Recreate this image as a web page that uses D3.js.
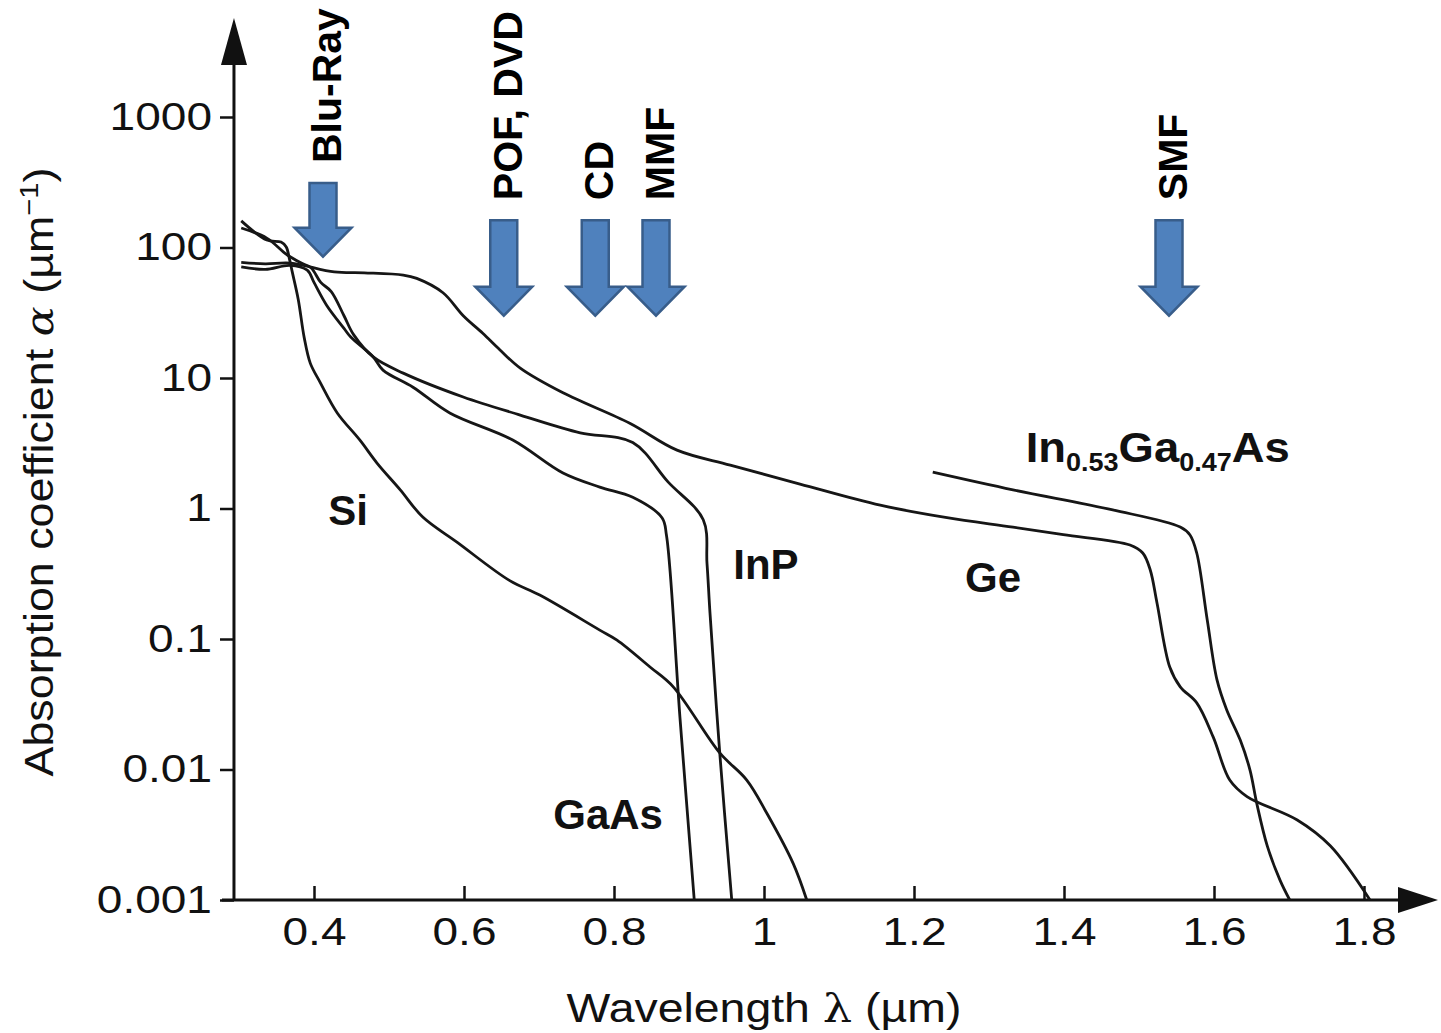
<!DOCTYPE html>
<meta charset="utf-8">
<script src="https://d3js.org/d3.v7.min.js"></script>
<style>
  body { margin: 0; background: #fff; }
  svg { display: block; font-family: "Liberation Sans", Arial, sans-serif; }
  .tick text { font-size: 39px; fill: #111; }
  .tick line { stroke: #111; stroke-width: 2.5; }
  .axisline { stroke: #111; stroke-width: 3; fill: none; }
  .curve { fill: none; stroke: #161616; stroke-width: 2.8; stroke-linejoin: round; }
  .mat { font-weight: bold; font-size: 42px; fill: #111; }
  .band { font-weight: bold; font-size: 41px; fill: #000; }
  .arrow { fill: #4f81bd; stroke: #385d8a; stroke-width: 2.5; }
  .title { font-size: 40px; fill: #111; }
</style>
<div id="chart"></div>
<script>
// wavelength (um) and absorption coefficient (um^-1)
var siWl = [0.303, 0.337, 0.356, 0.363, 0.367, 0.371, 0.379, 0.387, 0.395, 0.408, 0.431, 0.461, 0.484, 0.515, 0.545, 0.591, 0.661, 0.701, 0.781, 0.804, 0.848, 0.879, 0.941, 0.977, 1.004, 1.039, 1.057];
var siAlpha = [160, 114, 110, 101, 83, 65, 40, 20.3, 13, 9.3, 5.4, 3.35, 2.23, 1.39, 0.86, 0.55, 0.28, 0.217, 0.117, 0.098, 0.061, 0.043, 0.0134, 0.0083, 0.0046, 0.0019, 0.001];

var gaasWl = [0.303, 0.335, 0.368, 0.391, 0.400, 0.417, 0.440, 0.449, 0.479, 0.492, 0.532, 0.581, 0.665, 0.732, 0.781, 0.825, 0.864, 0.870, 0.888, 0.907];
var gaasAlpha = [71, 68, 73, 67, 54, 36, 24, 20.6, 14.5, 11.5, 8.5, 5.4, 3.35, 1.87, 1.46, 1.22, 0.85, 0.62, 0.0248, 0.001];

var inpWl = [0.303, 0.337, 0.364, 0.383, 0.396, 0.409, 0.423, 0.440, 0.453, 0.479, 0.519, 0.599, 0.675, 0.755, 0.825, 0.872, 0.919, 0.924, 0.928, 0.941, 0.957];
var inpAlpha = [141, 118, 88, 76, 70, 54, 46, 30, 21.4, 14.5, 10.9, 7.15, 5.2, 3.8, 3.2, 1.6, 0.82, 0.38, 0.158, 0.0134, 0.001];

var geWl = [0.303, 0.335, 0.369, 0.427, 0.467, 0.519, 0.537, 0.572, 0.599, 0.625, 0.648, 0.675, 0.732, 0.821, 0.884, 0.955, 1.048, 1.155, 1.244, 1.332, 1.399, 1.488, 1.505, 1.515, 1.524, 1.541, 1.555, 1.577, 1.599, 1.621, 1.644, 1.711, 1.755, 1.808];
var geAlpha = [77, 75, 76, 65, 64, 61.5, 58, 45, 30, 22, 16.4, 11.9, 7.7, 4.5, 2.8, 2.15, 1.54, 1.06, 0.85, 0.72, 0.63, 0.525, 0.456, 0.338, 0.189, 0.061, 0.043, 0.0324, 0.0177, 0.0083, 0.0062, 0.0041, 0.0026, 0.001];

var ingaasWl = [1.225, 1.332, 1.465, 1.555, 1.568, 1.577, 1.591, 1.604, 1.617, 1.635, 1.648, 1.657, 1.671, 1.688, 1.701];
var ingaasAlpha = [1.90, 1.39, 0.975, 0.721, 0.627, 0.456, 0.140, 0.0486, 0.0286, 0.0168, 0.0099, 0.0055, 0.0026, 0.00142, 0.001];

// wavelength bands marked with arrows (tail and tip as alpha values)
var bandNames = ["Blu-Ray", "POF, DVD", "CD", "MMF", "SMF"];
var bandWl = [0.412, 0.653, 0.775, 0.856, 1.540];
var bandFrom = [312, 162, 162, 162, 162];
var bandTo = [85, 30, 30, 30, 30];

// material labels
var matNames = ["Si", "InP", "GaAs", "Ge"];
var matWl = [0.419, 0.959, 0.719, 1.268];
var matAlpha = [0.75, 0.29, 0.0035, 0.23];

// ticks
var xTicks = [0.4, 0.6, 0.8, 1.0, 1.2, 1.4, 1.6, 1.8];
var xTickLabels = ["0.4", "0.6", "0.8", "1", "1.2", "1.4", "1.6", "1.8"];
var yTicks = [0.001, 0.01, 0.1, 1, 10, 100, 1000];
var yTickLabels = ["0.001", "0.01", "0.1", "1", "10", "100", "1000"];

var width = 1441, height = 1033;
var svg = d3.select("#chart").append("svg")
  .attr("width", width)
  .attr("height", height);

var x = d3.scaleLinear().domain([0.4, 1.8]).range([314, 1364]);
var y = d3.scaleLog().domain([0.001, 1000]).range([900, 117]);

var x0 = x(0.2933), y0 = y(0.001);

// stretch text a little wider, like the original lettering
function widen(sel, k) {
  sel.each(function() {
    var w = this.getComputedTextLength();
    d3.select(this).attr("textLength", w * k).attr("lengthAdjust", "spacingAndGlyphs");
  });
}

// axes
var gx = svg.append("g")
  .attr("transform", "translate(0," + y0 + ")")
  .call(d3.axisBottom(x).tickValues(xTicks)
    .tickFormat(function(d, i) { return xTickLabels[i]; })
    .tickSizeInner(-14).tickSizeOuter(0).tickPadding(17));
gx.select(".domain").remove();

var gy = svg.append("g")
  .attr("transform", "translate(" + x0 + ",0)")
  .call(d3.axisLeft(y).tickValues(yTicks)
    .tickFormat(function(d, i) { return yTickLabels[i]; })
    .tickSize(14).tickPadding(8));
gy.select(".domain").remove();

svg.selectAll(".tick text").attr("font-family", null).call(widen, 1.18);

// axis lines with arrow heads
svg.append("line").attr("class", "axisline")
  .attr("x1", x0).attr("y1", y0).attr("x2", x0).attr("y2", 60);
svg.append("path").attr("fill", "#111")
  .attr("d", "M" + x0 + ",18 L" + (x0 + 13) + ",65 L" + (x0 - 13) + ",65 Z");
svg.append("line").attr("class", "axisline")
  .attr("x1", x0 - 12).attr("y1", y0).attr("x2", 1400).attr("y2", y0);
svg.append("path").attr("fill", "#111")
  .attr("d", "M1438," + y0 + " L1398," + (y0 - 13) + " L1398," + (y0 + 13) + " Z");

// axis titles
var yt = svg.append("text").attr("class", "title")
  .attr("text-anchor", "middle")
  .attr("transform", "translate(53,472) rotate(-90)");
yt.append("tspan").text("Absorption coefficient ");
yt.append("tspan").attr("font-family", "DejaVu Serif").attr("font-style", "italic").text("\u03b1");
yt.append("tspan").text(" (\u00b5m");
yt.append("tspan").attr("font-size", 26).attr("dy", -15).text("\u22121");
yt.append("tspan").attr("dy", 15).text(")");
widen(yt, 1.12);

var xt = svg.append("text").attr("class", "title")
  .attr("text-anchor", "middle")
  .attr("x", x(1.0)).attr("y", 1022);
xt.append("tspan").text("Wavelength ");
xt.append("tspan").attr("font-family", "DejaVu Serif").text("\u03bb");
xt.append("tspan").text(" (\u00b5m)");
widen(xt, 1.16);

// curves
var series = [
  [siWl, siAlpha],
  [gaasWl, gaasAlpha],
  [inpWl, inpAlpha],
  [geWl, geAlpha],
  [ingaasWl, ingaasAlpha]
];
var line = d3.line()
  .x(function(d) { return x(d[0]); })
  .y(function(d) { return y(d[1]); })
  .curve(d3.curveCatmullRom.alpha(0.5));

svg.append("g").selectAll("path")
  .data(series)
  .enter().append("path")
  .attr("class", "curve")
  .attr("d", function(s) { return line(d3.zip(s[0], s[1])); });

// material labels
svg.append("g").selectAll("text")
  .data(matNames)
  .enter().append("text")
  .attr("class", "mat")
  .attr("x", function(d, i) { return x(matWl[i]); })
  .attr("y", function(d, i) { return y(matAlpha[i]); })
  .text(function(d) { return d; });

var ig = svg.append("text").attr("class", "mat")
  .attr("x", x(1.349)).attr("y", y(2.27));
ig.append("tspan").text("In");
ig.append("tspan").attr("font-size", 25).attr("dy", 9).text("0.53");
ig.append("tspan").attr("dy", -9).text("Ga");
ig.append("tspan").attr("font-size", 25).attr("dy", 9).text("0.47");
ig.append("tspan").attr("dy", -9).text("As");
widen(ig, 1.08);

// band arrows
var bands = svg.append("g").selectAll("g")
  .data(bandNames)
  .enter().append("g");

bands.append("path")
  .attr("class", "arrow")
  .attr("d", function(d, i) {
    var cx = x(bandWl[i]), top = y(bandFrom[i]), tip = y(bandTo[i]);
    var sw = 13.5, hw = 28.5, hl = 29;
    return "M" + (cx - sw) + "," + top + " L" + (cx + sw) + "," + top +
      " L" + (cx + sw) + "," + (tip - hl) + " L" + (cx + hw) + "," + (tip - hl) +
      " L" + cx + "," + tip + " L" + (cx - hw) + "," + (tip - hl) +
      " L" + (cx - sw) + "," + (tip - hl) + " Z";
  });

bands.append("text")
  .attr("class", "band")
  .attr("transform", function(d, i) {
    return "translate(" + (x(bandWl[i]) + 18) + "," + (y(bandFrom[i]) - 20) + ") rotate(-90)";
  })
  .text(function(d) { return d; });
</script>
